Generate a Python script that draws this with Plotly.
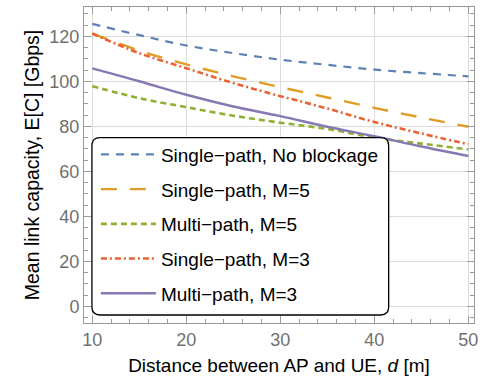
import plotly.graph_objects as go

distance = [10, 15, 20, 25, 30, 35, 40, 45, 50]
single_noblock = [125.5, 120.5, 115.9, 112.5, 109.6, 107.3, 105.2, 103.6, 102.2]
single_m5 = [121.2, 113.6, 107.5, 102.2, 97.4, 92.8, 88.2, 83.9, 79.8]
multi_m5 = [97.8, 92.5, 88.5, 84.7, 81.6, 78.8, 75.0, 72.3, 69.7]
single_m3 = [121.2, 112.5, 105.8, 99.2, 93.4, 87.9, 81.9, 76.8, 72.0]
multi_m3 = [105.7, 100.0, 94.0, 88.8, 84.5, 79.8, 75.6, 71.0, 66.8]

names = ["Single\u2212path, No blockage", "Single\u2212path, M=5", "Multi\u2212path, M=5",
         "Single\u2212path, M=3", "Multi\u2212path, M=3"]
series = [single_noblock, single_m5, multi_m5, single_m3, multi_m3]
colors = ["#5E81B5", "#E19C24", "#8FB032", "#EB6235", "#8778B3"]
dashes = ["8px,7px", "16px,13px", "6px,4px", "6px,3px,2px,3px", "solid"]
widths = [2.2, 2.4, 2.6, 2.6, 2.4]

W, H = 484, 379
L, R, T, B = 84, 7, 6, 56

fig = go.Figure()
for i, (nm, ys) in enumerate(zip(names, series)):
    fig.add_trace(go.Scatter(x=distance, y=ys, mode="lines", name=nm,
                             legendgroup=str(i), line_shape="spline",
                             line=dict(color=colors[i], dash=dashes[i], width=widths[i])))

pw, ph = W - L - R, H - T - B
def px2paper(px, py):
    return (px - L) / pw, (H - B - py) / ph

# rounded legend box
x0, y0 = 92, 137
x1, y1 = 391, 315
r = 8
def P(px, py):
    a, b = px2paper(px, py)
    return f"{a:.5f},{b:.5f}"
path = (f"M{P(x0 + r, y0)} L{P(x1 - r, y0)} Q{P(x1, y0)} {P(x1, y0 + r)} "
        f"L{P(x1, y1 - r)} Q{P(x1, y1)} {P(x1 - r, y1)} L{P(x0 + r, y1)} "
        f"Q{P(x0, y1)} {P(x0, y1 - r)} L{P(x0, y0 + r)} Q{P(x0, y0)} {P(x0 + r, y0)} Z")
fig.add_shape(type="path", path=path, xref="paper", yref="paper", layer="above",
              fillcolor="white", line=dict(color="black", width=1.3))

lx, ly = px2paper(96, 135)

axis_common = dict(
    showline=True, linecolor="#999999", linewidth=1, mirror="ticks",
    ticks="inside", ticklen=7, tickcolor="#999999", tickwidth=1,
    showgrid=True, gridcolor="#DCDCDC", gridwidth=1, zeroline=False,
    tickfont=dict(family="Liberation Sans, Arial", size=18, color="#707070"),
    minor=dict(ticks="inside", ticklen=4, tickcolor="#999999", showgrid=False),
)

fig.update_layout(
    width=W, height=H,
    margin=dict(l=L, r=R, t=T, b=B),
    paper_bgcolor="white", plot_bgcolor="white",
    font=dict(family="Liberation Sans, Arial", color="black"),
    xaxis=dict(range=[9.12, 50.6], tick0=10, dtick=10,
               title=dict(text="Distance between AP and UE, <i>d</i> [m]",
                          font=dict(size=19, color="black"), standoff=10),
               **axis_common),
    yaxis=dict(range=[-7.4, 133], tick0=0, dtick=20,
               title=dict(text="Mean link capacity, E[C] [Gbps]",
                          font=dict(size=19.5, color="black"), standoff=4),
               **axis_common),
    legend=dict(x=lx, y=ly, xanchor="left", yanchor="top",
                bgcolor="rgba(0,0,0,0)", borderwidth=0,
                font=dict(size=19, color="black"),
                itemwidth=55, tracegroupgap=7),
)
fig.update_xaxes(minor=dict(dtick=2))
fig.update_yaxes(minor=dict(dtick=5))

fig.write_html("out.html")
